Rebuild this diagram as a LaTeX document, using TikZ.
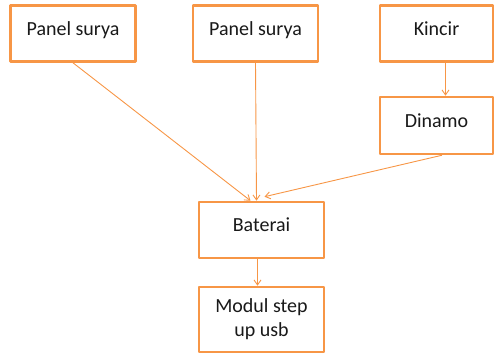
\documentclass[tikz,border=0pt]{standalone}
\usepackage{fontspec}
\setmainfont{Carlito}
\usetikzlibrary{arrows.meta}
\definecolor{boxorange}{RGB}{247,150,70}
\begin{document}
\begin{tikzpicture}[x=1pt, y=-1pt, line cap=round, line join=round,
    blok/.style={draw=boxorange, line width=2.6pt, fill=white, inner sep=0pt,
      align=center, font=\fontsize{20}{24}\selectfont, text=black!90},
    satu/.style={text height=14pt, text depth=11pt},
    panah/.style={draw=boxorange, line width=0.9pt, -{Straight Barb[length=5pt,width=7pt]}}]
  \useasboundingbox (0,0) rectangle (495,354);
  % Sumber energi
  \node[blok, satu, minimum width=125pt, minimum height=56pt] (panel1) at (73,33.5) {Panel surya};
  \node[blok, satu, minimum width=125pt, minimum height=56pt] (panel2) at (255.5,33.5) {Panel surya};
  \node[blok, satu, minimum width=113pt, minimum height=56pt] (kincir) at (436.5,33.5) {Kincir};
  \node[blok, satu, minimum width=113pt, minimum height=57pt] (dinamo) at (436.5,125.5) {Dinamo};
  % Penyimpanan dan keluaran
  \node[blok, satu, minimum width=125pt, minimum height=56pt] (baterai) at (261.5,230) {Baterai};
  \node[blok, minimum width=125pt, minimum height=65pt] (modul) at (261.5,319.5) {Modul step\\up usb};
  % Panah
  \draw[panah] (panel1.south) -- ([xshift=-11pt]baterai.north);
  \draw[panah] (panel2.south) -- ([xshift=-5pt]baterai.north);
  \draw[panah] ([xshift=7pt]dinamo.south west |- dinamo.south) ++(56pt,0) -- ([xshift=3pt,yshift=4pt]baterai.north);
  \draw[panah] ([xshift=9pt]kincir.south) -- ([xshift=9pt]dinamo.north);
  \draw[panah] ([xshift=-4pt]baterai.south) -- ([xshift=-4pt]modul.north);
\end{tikzpicture}
\end{document}
